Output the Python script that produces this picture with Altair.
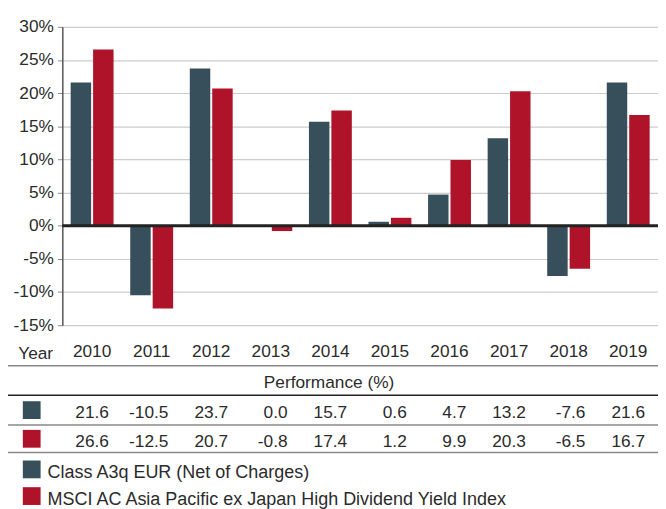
import altair as alt
import pandas as pd

years = ["2010", "2011", "2012", "2013", "2014", "2015", "2016", "2017", "2018", "2019"]
fund = [21.6, -10.5, 23.7, 0.0, 15.7, 0.6, 4.7, 13.2, -7.6, 21.6]
index = [26.6, -12.5, 20.7, -0.8, 17.4, 1.2, 9.9, 20.3, -6.5, 16.7]
series_names = ["Class A3q EUR (Net of Charges)",
                "MSCI AC Asia Pacific ex Japan High Dividend Yield Index"]
colors = ["#364F5B", "#AF1329"]
y_ticks = [-15, -10, -5, 0, 5, 10, 15, 20, 25, 30]

rows = []
for s, vals in zip(series_names, [fund, index]):
    for y, v in zip(years, vals):
        rows.append({"Year": y, "Series": s, "Value": v, "Label": f"{v:.1f}"})
df = pd.DataFrame(rows)

FONT = "Liberation Sans"
FS = 17.5
TXT = "#2b2b2b"

x_axis = alt.Axis(title=None, labelAngle=0, domain=False, ticks=False,
                  labelPadding=18, labelFontSize=FS, labelColor=TXT,
                  labelFont=FONT, grid=False)
x_scale = alt.Scale(paddingInner=0.28, paddingOuter=0.14)
y_axis = alt.Axis(title=None, values=y_ticks, labelExpr="datum.value + '%'",
                  labelOverlap=False, grid=True, labelBound=False,
                  labelFontSize=FS, labelColor=TXT, labelFont=FONT,
                  domainColor="#555555", domainWidth=1.5,
                  tickColor="#888888", tickSize=5, labelPadding=4,
                  gridColor="#cccccc", gridWidth=1.2)
y_scale = alt.Scale(domain=[-15, 30], nice=False, zero=False)

base = alt.Chart(df)

bars = base.mark_bar().encode(
    x=alt.X("Year:N", sort=years, scale=x_scale, axis=x_axis),
    xOffset=alt.XOffset("Series:N", sort=series_names,
                        scale=alt.Scale(paddingInner=0.088, paddingOuter=0)),
    y=alt.Y("Value:Q", scale=y_scale, axis=y_axis),
    color=alt.Color("Series:N", sort=series_names,
                    scale=alt.Scale(domain=series_names, range=colors), legend=None),
)

zero = alt.Chart(pd.DataFrame({"Value": [0]})).mark_rule(color="#222222", strokeWidth=3).encode(
    y=alt.Y("Value:Q", scale=y_scale, axis=y_axis)
)

def hline(ypix, color, w=1.5):
    return alt.Chart(pd.DataFrame({"a": [0]})).mark_rule(color=color, strokeWidth=w).encode(
        x=alt.value(-55), x2=alt.value(603), y=alt.value(ypix)
    )

def label(text, xpix, ypix, align="center", size=FS):
    return alt.Chart(pd.DataFrame({"t": [text]})).mark_text(
        align=align, baseline="middle", font=FONT, fontSize=size, color=TXT
    ).encode(text="t:N", x=alt.value(xpix), y=alt.value(ypix))

def square(color, ypix):
    return alt.Chart(pd.DataFrame({"a": [0]})).mark_square(
        size=324, color=color, opacity=1
    ).encode(x=alt.value(-31), y=alt.value(ypix))

def row_values(series, ypix):
    return base.transform_filter(alt.datum.Series == series).mark_text(
        align="right", baseline="middle", dx=17, font=FONT, fontSize=FS, color=TXT
    ).encode(x=alt.X("Year:N", sort=years, scale=x_scale, axis=x_axis),
             text="Label:N", y=alt.value(ypix))

layers = [
    bars, zero,
    hline(343, "#888888"), hline(373, "#222222"), hline(403, "#888888"), hline(431, "#888888"),
    label("Year", -27, 331),
    label("Performance (%)", 270, 361),
    square(colors[0], 388), square(colors[1], 417),
    row_values(series_names[0], 391), row_values(series_names[1], 420),
    square(colors[0], 448), square(colors[1], 475),
    label(series_names[0], -15, 452, align="left", size=18.2),
    label(series_names[1], -15, 479, align="left", size=18.2),
]

chart = alt.layer(*layers).properties(
    width=603, height=302,
    padding={"left": 55, "top": 16, "right": 0, "bottom": 183},
    autosize=alt.AutoSizeParams(type="none"),
).configure_view(stroke=None)

chart.save("out.html", embed_options={"renderer": "svg", "actions": False})
